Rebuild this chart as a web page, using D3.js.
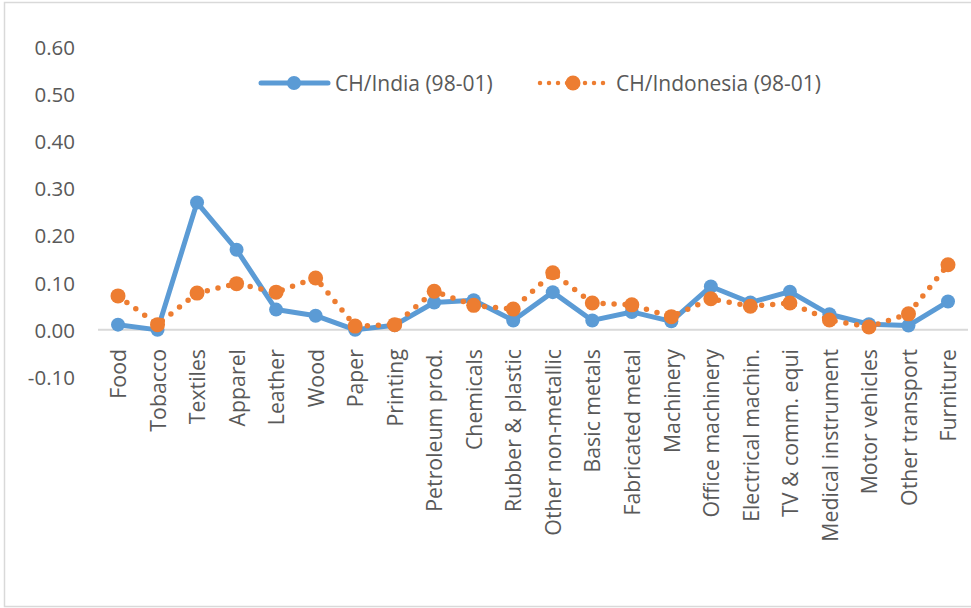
<!DOCTYPE html>
<html><head><meta charset="utf-8">
<script src="https://cdn.jsdelivr.net/npm/d3@7"></script>
<style>body{margin:0;background:#fff;} svg{display:block;}</style>
</head><body>
<script>
const categories = ["Food","Tobacco","Textiles","Apparel","Leather","Wood","Paper","Printing","Petroleum prod.","Chemicals","Rubber & plastic","Other non-metallic","Basic metals","Fabricated metal","Machinery","Office machinery","Electrical machin.","TV & comm. equi","Medical instrument","Motor vehicles","Other transport","Furniture"];
const india = [0.011,0.000,0.27,0.17,0.043,0.030,0.000,0.010,0.058,0.063,0.020,0.080,0.020,0.038,0.018,0.092,0.058,0.081,0.033,0.012,0.009,0.060];
const indonesia = [0.072,0.011,0.078,0.098,0.080,0.110,0.008,0.011,0.082,0.052,0.044,0.121,0.057,0.053,0.028,0.066,0.050,0.057,0.021,0.006,0.034,0.138];
const yTicks = [-0.10,0.00,0.10,0.20,0.30,0.40,0.50,0.60];
const seriesNames = ["CH/India (98-01)","CH/Indonesia (98-01)"];

const W=971,H=608;
const svg=d3.select("body").append("svg").attr("width",W).attr("height",H);
const font="'Open Sans', sans-serif";
const txt="#595959";
const fs=20.5;

svg.append("rect").attr("x",4.5).attr("y",2.5).attr("width",990).attr("height",604)
  .attr("fill","none").attr("stroke","#d9d9d9").attr("stroke-width",1.5);

const x=d3.scalePoint().domain(categories).range([118,948]);
const y=d3.scaleLinear().domain([-0.1,0.6]).range([377,47]);

// y axis labels
const f2=d3.format(".2f");
const yAxis=d3.axisLeft(y).tickValues(yTicks).tickFormat(d=>f2(d).replace("\u2212","-")).tickSize(0).tickPadding(0);
const ga=svg.append("g").attr("transform","translate(75,0)").call(yAxis);
ga.select(".domain").remove();
ga.selectAll("text").attr("font-family",font).attr("font-size",fs).attr("fill",txt).attr("dy","0.36em");

// zero line
svg.append("line").attr("x1",98).attr("x2",968).attr("y1",y(0)).attr("y2",y(0))
  .attr("stroke","#d9d9d9").attr("stroke-width",2);

// x labels
const xAxis=d3.axisBottom(x).tickSize(0).tickPadding(0);
const gx=svg.append("g").attr("transform","translate(0,349)").call(xAxis);
gx.select(".domain").remove();
gx.selectAll("text").attr("font-family",font).attr("font-size",fs+0.8).attr("fill",txt)
  .attr("transform","rotate(-90)").attr("text-anchor","end").attr("dy","0.36em").attr("dx","0").attr("y",0).attr("x",0);

const line=d3.line().x((d,i)=>x(categories[i])).y(d=>y(d));
const blue="#5b9bd5", orange="#ed7d31";

svg.append("path").datum(india).attr("d",line).attr("fill","none").attr("stroke",blue)
  .attr("stroke-width",5).attr("stroke-linejoin","round").attr("stroke-linecap","round");
svg.append("path").datum(indonesia).attr("d",line).attr("fill","none").attr("stroke",orange)
  .attr("stroke-width",5.5).attr("stroke-dasharray","0 11").attr("stroke-linecap","round");

svg.selectAll(".mi").data(india).join("circle").attr("cx",(d,i)=>x(categories[i])).attr("cy",d=>y(d))
  .attr("r",7).attr("fill",blue);
svg.selectAll(".mo").data(indonesia).join("circle").attr("cx",(d,i)=>x(categories[i])).attr("cy",d=>y(d))
  .attr("r",7.5).attr("fill",orange);

// legend
const ly=83;
svg.append("line").attr("x1",261).attr("x2",328).attr("y1",ly).attr("y2",ly).attr("stroke",blue).attr("stroke-width",5).attr("stroke-linecap","round");
svg.append("circle").attr("cx",294).attr("cy",ly).attr("r",7).attr("fill",blue);
svg.append("text").attr("x",335).attr("y",ly).attr("dy","0.36em").attr("font-family",font).attr("font-size",21).attr("fill",txt).text(seriesNames[0]);
svg.append("line").attr("x1",540).attr("x2",606).attr("y1",ly).attr("y2",ly).attr("stroke",orange).attr("stroke-width",4.5).attr("stroke-dasharray","0 9").attr("stroke-linecap","round");
svg.append("circle").attr("cx",573).attr("cy",ly).attr("r",7.5).attr("fill",orange);
svg.append("text").attr("x",616).attr("y",ly).attr("dy","0.36em").attr("font-family",font).attr("font-size",21).attr("fill",txt).text(seriesNames[1]);
</script>
</body></html>
